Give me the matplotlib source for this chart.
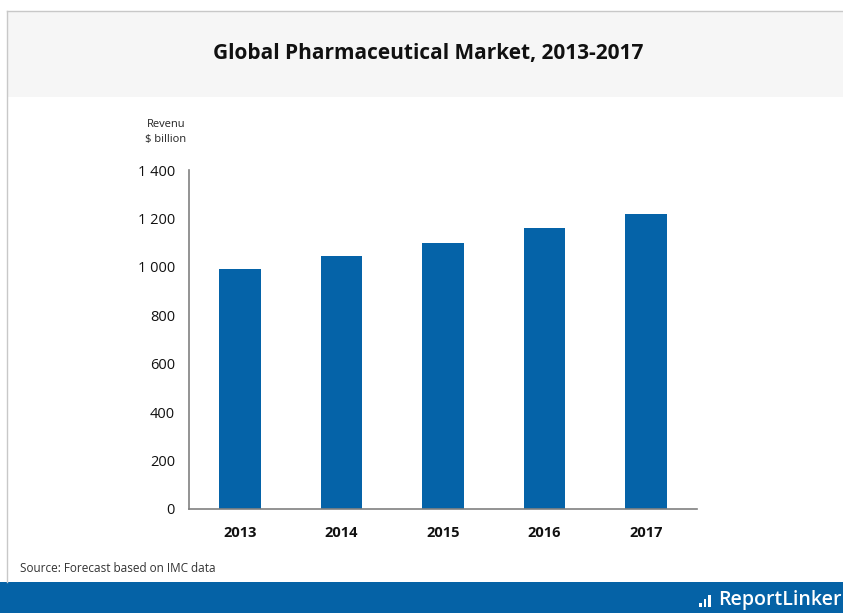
import matplotlib.pyplot as plt
from matplotlib.patches import Rectangle
from matplotlib.lines import Line2D

years = ['2013', '2014', '2015', '2016', '2017']
revenue = [990, 1045, 1100, 1160, 1220]
yticks = [0, 200, 400, 600, 800, 1000, 1200, 1400]
ylabels = ['0', '200', '400', '600', '800', '1 000', '1 200', '1 400']

W, H = 843, 613
fig = plt.figure(figsize=(W / 100, H / 100), dpi=100)
fig.patch.set_facecolor('white')

def fx(px):
    return px / W

def fy(py):
    return 1 - py / H

# title band and frame
fig.patches.append(Rectangle((fx(7), fy(97)), 1 - fx(7), fy(11) - fy(97),
                             transform=fig.transFigure, facecolor='#f6f6f6',
                             edgecolor='none', zorder=0))
fig.lines.append(Line2D([fx(7), 1], [fy(11), fy(11)], transform=fig.transFigure,
                        color='#c8c8c8', lw=1))
fig.lines.append(Line2D([fx(7), fx(7)], [fy(11), fy(582)], transform=fig.transFigure,
                        color='#c8c8c8', lw=1))
# footer band
fig.patches.append(Rectangle((0, 0), 1, fy(582), transform=fig.transFigure,
                             facecolor='#0562a6', edgecolor='none', zorder=0))

# logo bars
for i, h in enumerate([4, 8, 12]):
    fig.patches.append(Rectangle((fx(699 + i * 4.5), fy(607)), fx(2.5), h / H,
                                 transform=fig.transFigure, facecolor='white',
                                 edgecolor='none', zorder=2))

fig.text(fx(428), fy(53), 'Global Pharmaceutical Market, 2013-2017', ha='center',
         va='center', fontsize=15, fontweight='bold', family='Open Sans', color='#111111')
fig.text(fx(166), fy(132), 'Revenu\n$ billion', ha='center', va='center',
         fontsize=8, family='Open Sans', color='#222222', linespacing=1.4)
fig.text(fx(20), fy(569), 'Source: Forecast based on IMC data', ha='left', va='center',
         fontsize=8.5, family='Open Sans', color='#333333')
fig.text(fx(842), fy(600), 'ReportLinker', ha='right', va='center', fontsize=14,
         family='Open Sans', color='white', fontweight='semibold')

ax = fig.add_axes([fx(189), fy(509), fx(697) - fx(189), fy(170) - fy(509)])
ax.bar(range(len(years)), revenue, width=0.41, color='#0563a8')
ax.set_xlim(-0.5, len(years) - 0.5)
ax.set_ylim(0, 1400)
ax.set_yticks(yticks)
ax.set_yticklabels(ylabels)
ax.set_xticks(range(len(years)))
ax.set_xticklabels(years, fontweight='bold')
ax.tick_params(length=0, labelsize=10.5, colors='#111111')
ax.tick_params(axis='y', pad=10)
ax.tick_params(axis='x', pad=12)
for lbl in ax.get_xticklabels() + ax.get_yticklabels():
    lbl.set_family('Open Sans')
for s in ['top', 'right']:
    ax.spines[s].set_visible(False)
for s in ['left', 'bottom']:
    ax.spines[s].set_color('#808080')
    ax.spines[s].set_linewidth(1.2)

fig.savefig('out.png', dpi=100)
